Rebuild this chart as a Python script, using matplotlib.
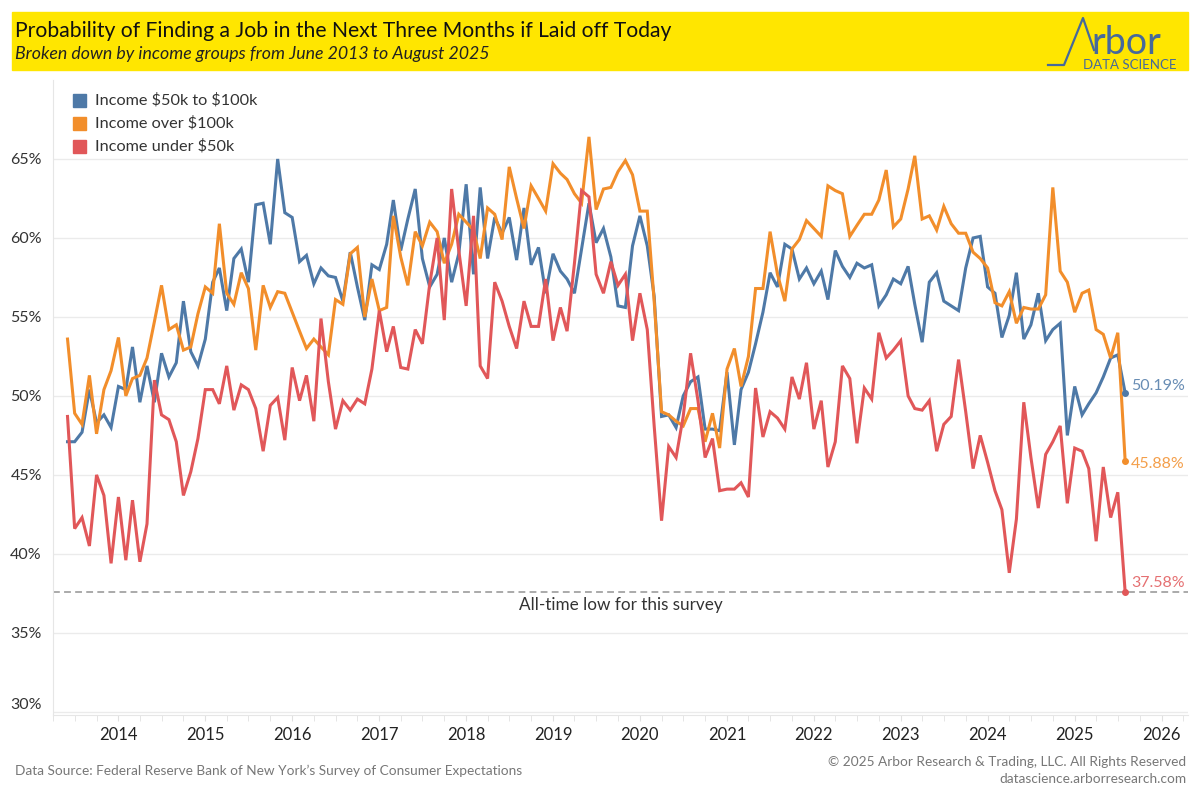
import pandas as pd
import matplotlib.pyplot as plt
import matplotlib.dates as mdates
import matplotlib.transforms as mtransforms
from matplotlib.patches import Rectangle
from matplotlib.lines import Line2D

plt.rcParams['font.family'] = ['Lato', 'DejaVu Sans']
plt.rcParams['text.parse_math'] = False

# monthly survey values, June 2013 .. August 2025 (percent)
start_month = "2013-06-01"
income_50k_100k = [
    47.1, 47.1, 47.7, 50.4, 48.3, 48.8, 48.0, 50.6, 50.4, 53.1, 49.6, 51.9, 49.6, 52.7, 51.2, 52.1,
    56.0, 52.8, 51.9, 53.6, 57.2, 58.1, 55.4, 58.7, 59.3, 57.2, 62.1, 62.2, 59.6, 65.0, 61.6, 61.3,
    58.5, 58.9, 57.1, 58.1, 57.6, 57.5, 56.0, 59.1, 56.9, 54.8, 58.3, 58.0, 59.6, 62.4, 59.2, 61.2,
    63.1, 58.7, 56.9, 57.7, 60.0, 57.2, 59.0, 63.4, 57.7, 63.2, 58.7, 61.3, 60.3, 61.3, 58.6, 61.9,
    58.3, 59.4, 56.5, 59.0, 57.9, 57.4, 56.5, 59.3, 62.2, 59.7, 60.6, 58.8, 55.7, 55.6, 59.5, 61.4,
    59.5, 56.3, 48.7, 48.8, 48.0, 50.0, 50.9, 51.2, 47.9, 47.9, 47.8, 51.5, 46.9, 50.4, 51.5, 53.3,
    55.3, 57.8, 56.9, 59.6, 59.3, 57.4, 58.1, 57.1, 57.9, 56.1, 59.2, 58.2, 57.5, 58.4, 58.1, 58.3,
    55.7, 56.4, 57.4, 57.1, 58.2, 55.8, 53.4, 57.2, 57.8, 56.0, 55.7, 55.4, 58.1, 60.0, 60.1, 56.9,
    56.5, 53.7, 55.1, 57.8, 53.6, 54.5, 56.5, 53.5, 54.2, 54.6, 47.5, 50.6, 48.8, 49.5, 50.2, 51.2,
    52.4, 52.6, 50.19,
]
income_over_100k = [
    53.6, 48.9, 48.2, 51.3, 47.6, 50.4, 51.6, 53.7, 50.0, 51.1, 51.3, 52.4, 54.7, 57.0, 54.2, 54.5,
    52.9, 53.1, 55.2, 56.9, 56.5, 60.9, 56.5, 55.8, 57.8, 56.8, 52.9, 57.0, 55.6, 56.6, 56.5, 55.3,
    54.1, 53.0, 53.6, 53.1, 52.6, 56.1, 55.8, 59.0, 59.4, 55.0, 57.4, 55.4, 55.6, 61.4, 58.8, 57.0,
    60.4, 59.5, 61.0, 60.4, 58.4, 59.6, 61.5, 61.0, 60.5, 58.7, 61.9, 61.5, 59.9, 64.5, 62.5, 60.6,
    63.3, 62.5, 61.7, 64.7, 64.1, 63.7, 62.8, 62.2, 66.4, 61.8, 63.1, 63.2, 64.2, 64.9, 64.0, 61.7,
    61.7, 56.0, 49.0, 48.8, 48.4, 48.1, 49.2, 49.2, 47.1, 48.9, 46.7, 51.7, 53.0, 50.6, 52.5, 56.8,
    56.8, 60.4, 57.7, 56.0, 59.3, 59.9, 61.1, 60.6, 60.1, 63.3, 63.0, 62.8, 60.1, 60.8, 61.5, 61.5,
    62.4, 64.3, 60.7, 61.2, 63.1, 65.2, 61.2, 61.4, 60.5, 62.0, 60.9, 60.3, 60.3, 59.1, 58.7, 58.1,
    55.9, 55.7, 56.6, 54.6, 55.6, 55.5, 55.5, 56.4, 63.2, 57.9, 57.2, 55.3, 56.5, 56.7, 54.2, 53.9,
    52.4, 54.0, 45.88,
]
income_under_50k = [
    48.7, 41.6, 42.3, 40.5, 45.0, 43.7, 39.4, 43.6, 39.6, 43.4, 39.5, 41.9, 51.0, 48.8, 48.5, 47.1,
    43.7, 45.2, 47.3, 50.4, 50.4, 49.5, 51.9, 49.1, 50.7, 50.4, 49.2, 46.5, 49.4, 49.9, 47.2, 51.8,
    49.7, 51.3, 48.4, 54.9, 50.9, 47.9, 49.7, 49.1, 49.8, 49.5, 51.7, 55.4, 52.8, 54.4, 51.8, 51.7,
    54.2, 53.3, 57.1, 60.0, 54.8, 63.1, 59.2, 55.7, 61.4, 51.9, 51.1, 57.2, 56.0, 54.4, 53.0, 56.0,
    54.4, 54.4, 57.4, 53.5, 55.6, 54.1, 58.4, 63.0, 62.6, 57.7, 56.5, 58.5, 57.0, 57.7, 53.5, 56.5,
    54.2, 48.1, 42.1, 46.8, 46.1, 48.7, 52.7, 49.7, 46.1, 47.3, 44.0, 44.1, 44.1, 44.5, 43.6, 50.5,
    47.4, 49.0, 48.6, 47.9, 51.2, 49.8, 52.1, 47.9, 49.7, 45.5, 47.1, 51.9, 51.1, 47.0, 50.5, 49.8,
    54.0, 52.4, 52.9, 53.5, 50.0, 49.2, 49.1, 49.7, 46.5, 48.2, 48.7, 52.3, 49.0, 45.4, 47.5, 45.8,
    44.0, 42.8, 38.8, 42.2, 49.6, 46.1, 42.9, 46.3, 47.1, 48.1, 43.2, 46.7, 46.5, 45.4, 40.8, 45.5,
    42.3, 43.9, 37.58,
]
series_names = ["Income $50k to $100k", "Income over $100k", "Income under $50k"]
series_colors = ["#4e79a7", "#f28e2b", "#e15759"]
all_time_low = 37.58
y_ticks = [30, 35, 40, 45, 50, 55, 60, 65]

months = pd.date_range(start_month, periods=len(income_50k_100k), freq="MS")
all_series = [income_50k_100k, income_over_100k, income_under_50k]


def px(x, y):
    # pixel position (from top-left) -> figure fraction
    return x / 1200, 1 - y / 800


fig = plt.figure(figsize=(12, 8), dpi=100)
ax = fig.add_axes([53 / 1200, 85 / 800, 1135 / 1200, 635 / 800])

# header band
fig.patches.append(Rectangle(px(12, 70), 1176 / 1200, 58 / 800, transform=fig.transFigure,
                             color="#ffe600", zorder=0))
fig.text(*px(15, 31), "Probability of Finding a Job in the Next Three Months if Laid off Today",
         fontsize=15.2, color="#111111", va="center", ha="left")
fig.text(*px(15, 54), "Broken down by income groups from June 2013 to August 2025",
         fontsize=12.8, style="italic", color="#222222", va="center", ha="left")

# logo
logo_blue = "#46699b"
fig.lines.append(Line2D([1048 / 1200, 1064 / 1200, 1083 / 1200, 1094 / 1200],
                        [1 - 65 / 800, 1 - 65 / 800, 1 - 18 / 800, 1 - 50 / 800],
                        transform=fig.transFigure, color=logo_blue, lw=1.6))
fig.text(*px(1091, 54), "rbor", fontsize=27, color=logo_blue, va="baseline", ha="left")
fig.text(*px(1083, 65), "DATA SCIENCE", fontsize=9.5, color=logo_blue, va="center", ha="left")

# series
for vals, color in zip(all_series, series_colors):
    ax.plot(months, vals, color=color, lw=2.2, solid_joinstyle="miter", zorder=3)
    ax.plot(months[-1], vals[-1], "o", color=color, ms=4, zorder=4)

offsets = [(6, 7), (6, -3), (6, 9)]
for vals, color, off in zip(all_series, series_colors, offsets):
    ax.annotate(f"{vals[-1]:.2f}%", xy=(months[-1], vals[-1]), xytext=off,
                textcoords="offset pixels", color=color, fontsize=11.5, va="center", ha="left",
                alpha=0.85)

# all-time low reference line
ax.axhline(all_time_low, color="#aaaaaa", lw=1.4, dashes=(3.5, 2.2), zorder=2)
blend = mtransforms.blended_transform_factory(ax.transAxes, ax.transData)
ax.annotate("All-time low for this survey", xy=(0.5, all_time_low), xycoords=blend,
            xytext=(0, -5), textcoords="offset pixels", ha="center", va="top",
            fontsize=12.3, color="#333333")

# axes
ax.set_ylim(29.8, 70)
ax.set_xlim(pd.Timestamp("2013-04-01"), pd.Timestamp("2026-04-22"))
ax.set_yticks(y_ticks)
ax.set_yticklabels([f"{t}%" for t in y_ticks])
ax.grid(axis="y", color="#ebebeb", lw=1)
ax.set_axisbelow(True)
ax.xaxis.set_major_locator(mdates.YearLocator())
ax.xaxis.set_major_formatter(mdates.DateFormatter("%Y"))
ax.xaxis.set_minor_locator(mdates.MonthLocator(bymonth=[1, 4, 7, 10]))
ax.tick_params(axis="x", which="both", length=4, color="#e0e0e0", labelsize=12,
               labelcolor="#222222", pad=5)
ax.tick_params(axis="y", length=0, labelsize=11.5, labelcolor="#333333", pad=8)
for side in ["top", "right"]:
    ax.spines[side].set_visible(False)
for side in ["left", "bottom"]:
    ax.spines[side].set_color("#e6e6e6")
ax.get_yticklabels()[0].set_va("bottom")

# legend
for k, (name, color) in enumerate(zip(series_names, series_colors)):
    y = 100 + 23 * k
    fig.patches.append(Rectangle(px(73, y + 6.5), 13 / 1200, 13 / 800, transform=fig.transFigure,
                                 color=color))
    fig.text(*px(95, y), name, fontsize=11.7, color="#333333", va="center", ha="left")

# footer
fig.text(*px(15, 771), "Data Source: Federal Reserve Bank of New York\u2019s Survey of Consumer Expectations",
         fontsize=9.8, color="#777777", va="center", ha="left")
fig.text(*px(1186, 762), "\u00a9 2025 Arbor Research & Trading, LLC. All Rights Reserved",
         fontsize=9.8, color="#777777", va="center", ha="right")
fig.text(*px(1186, 779), "datascience.arborresearch.com",
         fontsize=9.8, color="#777777", va="center", ha="right")

fig.savefig("out.png", dpi=100)
